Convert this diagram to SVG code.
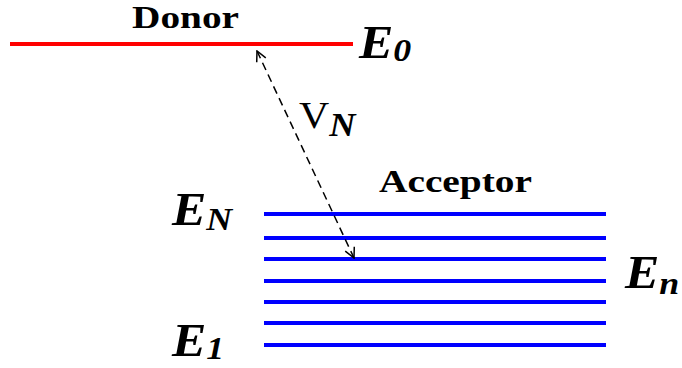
<svg xmlns="http://www.w3.org/2000/svg" width="682" height="368" viewBox="0 0 682 368">
<style>
.lbl{font-weight:bold;fill:#000}
.v{fill:#000;font-size:38px}
.e{font-weight:bold;font-style:italic;fill:#000;font-size:46px}
.sub{font-size:32px}
.acc{stroke:#0000ff;stroke-width:4;fill:none}
.don{stroke:#ff0000;stroke-width:4;fill:none}
.arr{stroke:#000;stroke-width:1.5;stroke-dasharray:8,5;fill:none}
</style>
<defs>
<marker id="ah" viewBox="0 0 12 12" refX="11" refY="6" markerWidth="12" markerHeight="12" markerUnits="userSpaceOnUse" orient="auto-start-reverse">
<path d="M1,1 L11,6 L1,11" fill="none" stroke="#000" stroke-width="1.5"/>
</marker>
</defs>
<rect width="682" height="368" fill="#fff"/>
<g id="donor">
<line class="don" x1="10" y1="44" x2="353" y2="44"/>
<text class="lbl" font-family="Liberation Serif, serif" font-size="31" x="132" y="28" textLength="107" lengthAdjust="spacingAndGlyphs">Donor</text>
<text class="e" font-family="Liberation Serif, serif" transform="translate(359,58) scale(1.12,1)">E<tspan class="sub" dy="3">0</tspan></text>
</g>
<g id="acceptor">
<line class="acc" x1="264" y1="214" x2="606" y2="214"/>
<line class="acc" x1="264" y1="238" x2="606" y2="238"/>
<line class="acc" x1="264" y1="259" x2="606" y2="259"/>
<line class="acc" x1="264" y1="281" x2="606" y2="281"/>
<line class="acc" x1="264" y1="302" x2="606" y2="302"/>
<line class="acc" x1="264" y1="323" x2="606" y2="323"/>
<line class="acc" x1="264" y1="345" x2="606" y2="345"/>
<text class="lbl" font-family="Liberation Serif, serif" font-size="32" x="379" y="192" textLength="153" lengthAdjust="spacingAndGlyphs">Acceptor</text>
<text class="e" font-family="Liberation Serif, serif" transform="translate(172,225) scale(1.12,1)">E<tspan class="sub" dy="5">N</tspan></text>
<text class="e" font-family="Liberation Serif, serif" transform="translate(172,356) scale(1.12,1)">E<tspan class="sub" dy="3">1</tspan></text>
<text class="e" font-family="Liberation Serif, serif" transform="translate(625,288) scale(1.12,1)">E<tspan class="sub" dy="6">n</tspan></text>
</g>
<g id="connectors">
<line class="arr" x1="257" y1="51" x2="354" y2="258" marker-start="url(#ah)" marker-end="url(#ah)"/>
<text class="v" font-family="Liberation Serif, serif" transform="translate(299,128) scale(1.1,1)">V<tspan font-style="italic" font-weight="bold" font-size="33" dy="8">N</tspan></text>
</g>
</svg>
